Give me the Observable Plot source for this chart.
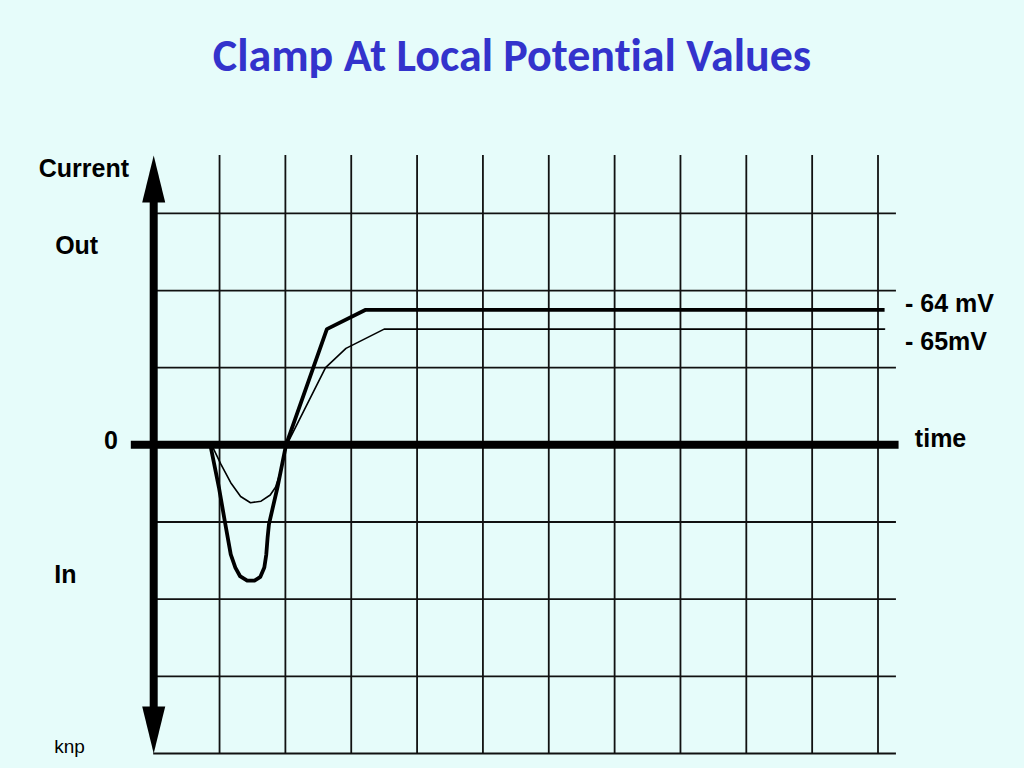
<!DOCTYPE html>
<html>
<head>
<meta charset="utf-8">
<script src="https://cdn.jsdelivr.net/npm/d3@7"></script>
<script src="https://cdn.jsdelivr.net/npm/@observablehq/plot@0.6"></script>
<style>
  html, body { margin: 0; padding: 0; background: #e6fcfa; }
  #wrap { position: relative; width: 1024px; height: 768px; overflow: hidden; background: #e6fcfa; }
  #title { position: absolute; left: 0; top: 32px; width: 1024px; text-align: center;
    font-family: Carlito, Lato, "Open Sans", sans-serif; font-weight: bold; font-size: 46px; line-height: 1;
    font-variant-ligatures: none; font-feature-settings: "liga" 0;
    color: #3333cc; }
  #chart { position: absolute; left: 0; top: 0; }
</style>
</head>
<body>
<div id="wrap">
  <div id="title">Clamp At Local Potential Values</div>
  <div id="chart"></div>
</div>
<script>
// ---- data (time in grid units, current in grid units) ----
const timeGrid = [1, 2, 3, 4, 5, 6, 7, 8, 9, 10, 11];
const currentGrid = [-4, -3, -2, -1, 1, 2, 3];

// -64 mV trace (thick)
const mV64Time    = [0.86, 0.99, 1.08, 1.17, 1.24, 1.31, 1.42, 1.53, 1.62, 1.68, 1.71, 1.73, 1.75, 1.88, 2.01, 2.63, 3.22, 11.1];
const mV64Current = [0.00, -0.55, -0.99, -1.42, -1.59, -1.70, -1.76, -1.76, -1.71, -1.59, -1.42, -1.20, -1.03, -0.55, 0.00, 1.50, 1.75, 1.75];

// -65 mV trace (thin)
const mV65Time    = [0.88, 1.02, 1.17, 1.32, 1.47, 1.63, 1.77, 1.85, 1.93, 2.02, 2.61, 2.92, 3.50, 11.1];
const mV65Current = [0.00, -0.25, -0.49, -0.67, -0.75, -0.73, -0.65, -0.55, -0.34, 0.00, 1.00, 1.25, 1.50, 1.50];

// axis extents (grid units)
const axisTop = 3.75, axisBottom = -4, arrowLen = 0.61, arrowHalf = 0.175;
const zeroFrom = -0.34, zeroTo = 11.32, gridFrom = 0.03, gridTo = 11.28;

// labels
const leftLabels = [
  {text: "Current", t: -1.06, i: 3.58},
  {text: "Out", t: -1.17, i: 2.58},
  {text: "0", t: -0.65, i: 0.05},
  {text: "In", t: -1.34, i: -1.69}
];
const rightLabels = [
  {text: "- 64 mV", t: 11.41, i: 1.82},
  {text: "- 65mV", t: 11.41, i: 1.33},
  {text: "time", t: 11.56, i: 0.07}
];
const creditLabel = [{text: "knp", t: -1.51, i: -3.91}];

const thick = mV64Time.map((t, k) => ({t, i: mV64Current[k]}));
const thin = mV65Time.map((t, k) => ({t, i: mV65Current[k]}));
const upHead = [{t: 0, i: axisTop}, {t: -arrowHalf, i: axisTop - arrowLen}, {t: arrowHalf, i: axisTop - arrowLen}];
const downHead = [{t: 0, i: axisBottom}, {t: -arrowHalf, i: axisBottom + arrowLen}, {t: arrowHalf, i: axisBottom + arrowLen}];

const chart = Plot.plot({
  width: 1024,
  height: 768,
  marginLeft: 153.2,
  marginRight: 146.5,
  marginTop: 155,
  marginBottom: 15,
  x: {domain: [0, 11], axis: null},
  y: {domain: [-4, 3.75], axis: null},
  style: {background: "transparent", overflow: "visible"},
  marks: [
    Plot.ruleX(timeGrid, {x: d => d, y1: axisBottom, y2: axisTop, stroke: "#111", strokeWidth: 1.8}),
    Plot.ruleY(currentGrid, {y: d => d, x1: d => d === axisBottom ? 0 : gridFrom, x2: gridTo, stroke: "#111", strokeWidth: 1.8}),
    Plot.ruleY([0], {x1: zeroFrom, x2: zeroTo, stroke: "#000", strokeWidth: 8}),
    Plot.ruleX([0], {y1: axisBottom + arrowLen - 0.05, y2: axisTop - arrowLen + 0.05, stroke: "#000", strokeWidth: 8}),
    Plot.line(upHead, {x: "t", y: "i", fill: "#000", stroke: "none"}),
    Plot.line(downHead, {x: "t", y: "i", fill: "#000", stroke: "none"}),
    Plot.line(thin, {x: "t", y: "i", stroke: "#000", strokeWidth: 1.6, strokeLinejoin: "round"}),
    Plot.line(thick, {x: "t", y: "i", stroke: "#000", strokeWidth: 3.8, strokeLinejoin: "round", strokeLinecap: "butt"}),
    Plot.text(leftLabels, {x: "t", y: "i", text: "text", fontSize: 25, fontWeight: "bold", fontFamily: "Liberation Sans, Arial, sans-serif", fill: "#000", textAnchor: "middle"}),
    Plot.text(rightLabels, {x: "t", y: "i", text: "text", fontSize: 25, fontWeight: "bold", fontFamily: "Liberation Sans, Arial, sans-serif", fill: "#000", textAnchor: "start"}),
    Plot.text(creditLabel, {x: "t", y: "i", text: "text", fontSize: 19, fontFamily: "Liberation Sans, Arial, sans-serif", fill: "#000", textAnchor: "start"})
  ]
});
document.getElementById("chart").appendChild(chart);
</script>
</body>
</html>
